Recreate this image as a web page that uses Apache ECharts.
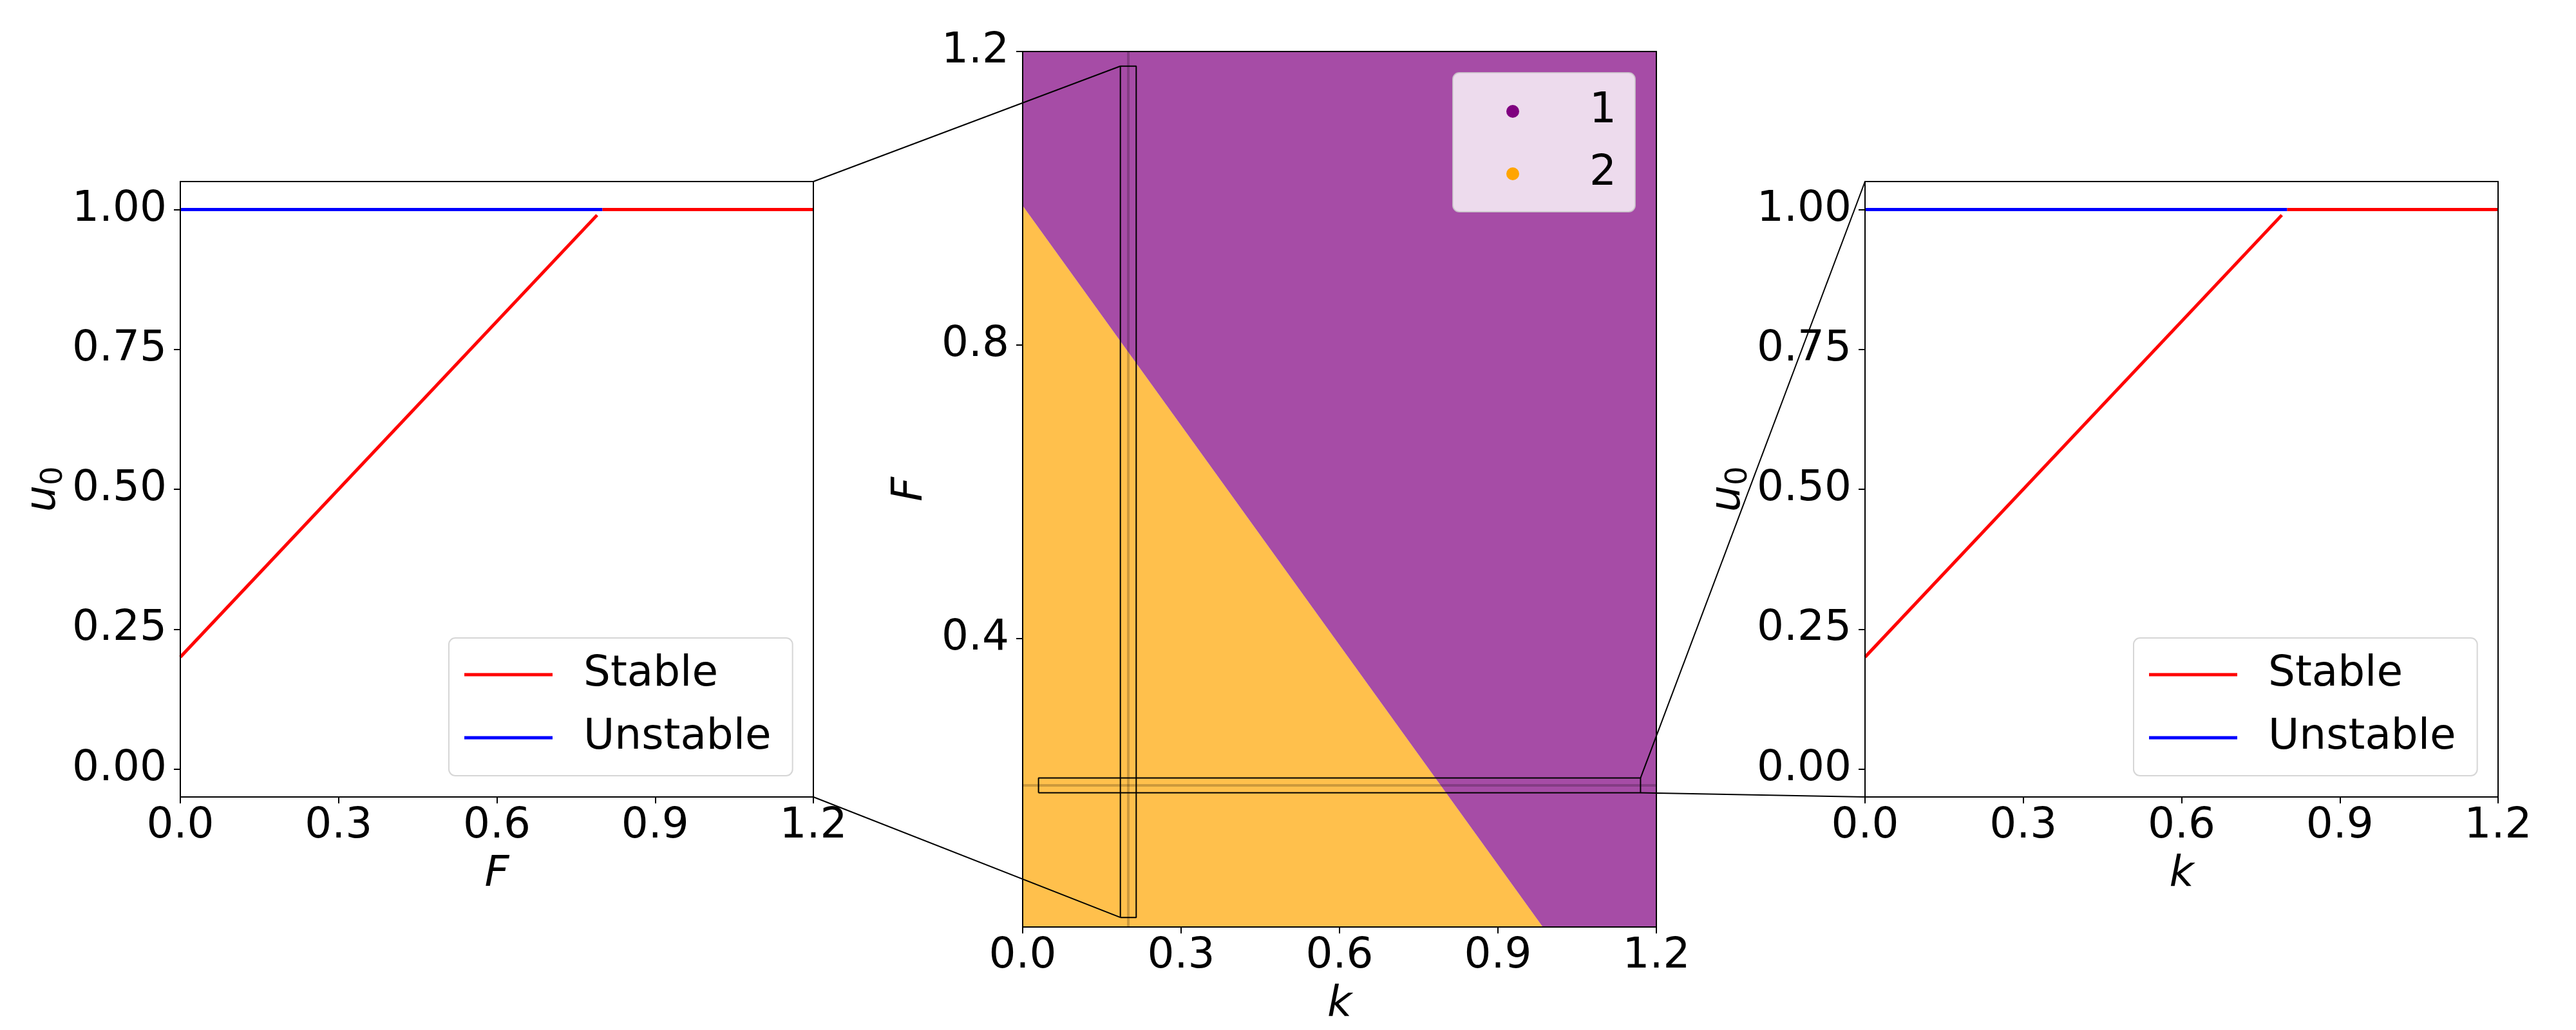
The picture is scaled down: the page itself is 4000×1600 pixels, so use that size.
<!DOCTYPE html>
<html>
<head>
<meta charset="utf-8">
<script src="https://cdn.jsdelivr.net/npm/echarts@6/dist/echarts.min.js"></script>
<style>
  html, body { margin: 0; padding: 0; background: #fff; }
  #chart { width: 4000px; height: 1600px; }
</style>
</head>
<body>
<div id="chart"></div>
<script>
// left panel: u0 against F (slice at k = 0.2)
const fStableLow = [0, 0.79];
const uStableLow = [0.2, 0.99];
const fStableHigh = [0.8, 1.2];
const uStableHigh = [1.0, 1.0];
const fUnstable = [0, 0.8];
const uUnstable = [1.0, 1.0];

// right panel: u0 against k (slice at F = 0.2)
const kStableLow = [0, 0.79];
const uStableLowK = [0.2, 0.99];
const kStableHigh = [0.8, 1.2];
const uStableHighK = [1.0, 1.0];
const kUnstable = [0, 0.8];
const uUnstableK = [1.0, 1.0];

// middle panel: boundary between region 1 (above) and region 2 (below)
const boundaryK = [0, 0.985, 1.2];
const boundaryF = [0.99, 0.007, 0.007];

// slices and the boxes that are blown up in the side panels
const sliceK = 0.2;
const sliceF = 0.2;
const vBoxK = [0.185, 0.215];
const vBoxF = [0.02, 1.18];
const hBoxK = [0.03, 1.17];
const hBoxF = [0.19, 0.21];

// axis ranges and ticks
const xRange = [0, 1.2];
const uRange = [-0.05, 1.05];
const fRange = [0.007, 1.2];
const xTicks = [0, 0.3, 0.6, 0.9, 1.2];
const uTicks = [0, 0.25, 0.5, 0.75, 1.0];
const fTicks = [0.4, 0.8, 1.2];

const FONT = 'DejaVu Sans';
const FS = 66;
const LW = 5;

const pairs = (xs, ys) => xs.map((x, i) => [x, ys[i]]);
const box = (ks, fs) => [[ks[0], fs[0]], [ks[1], fs[0]], [ks[1], fs[1]], [ks[0], fs[1]], [ks[0], fs[0]]];

const grids = [
  { left: 280, top: 282, width: 983, height: 956 },
  { left: 1588, top: 80, width: 984, height: 1360 },
  { left: 2896, top: 282, width: 983, height: 956 }
];

const u0Name = {
  name: '{u|u}{s|0}',
  nameLocation: 'middle',
  nameRotate: 90,
  nameGap: 177,
  nameTextStyle: {
    rich: {
      u: { fontFamily: FONT, fontSize: FS, fontStyle: 'italic', lineHeight: 70, color: '#000' },
      s: { fontFamily: FONT, fontSize: 46, lineHeight: 46, padding: [32, 0, 0, 0], color: '#000' }
    }
  }
}

const mainAxis = (gridIndex, range, ticks, digits, extra) => Object.assign({
  type: 'value',
  gridIndex,
  min: range[0],
  max: range[1],
  z: 10,
  axisLine: { show: true, onZero: false, lineStyle: { color: '#000', width: 2 } },
  axisTick: { show: true, length: 10, customValues: ticks, lineStyle: { color: '#000', width: 2 } },
  axisLabel: {
    customValues: ticks,
    formatter: v => v.toFixed(digits),
    fontFamily: FONT,
    fontSize: FS,
    color: '#000'
  },
  splitLine: { show: false }
}, extra)

const frameAxis = (gridIndex, range, position) => ({
  type: 'value',
  gridIndex,
  position,
  min: range[0],
  max: range[1],
  z: 10,
  axisLine: { show: true, onZero: false, lineStyle: { color: '#000', width: 2 } },
  axisTick: { show: false },
  axisLabel: { show: false },
  splitLine: { show: false }
})

const italicName = (name, gap, rotate) => ({
  name,
  nameLocation: 'middle',
  nameGap: gap,
  nameRotate: rotate,
  nameTextStyle: { fontFamily: FONT, fontSize: FS, fontStyle: 'italic', color: '#000', lineHeight: 66 }
})

const xAxis = [
  mainAxis(0, xRange, xTicks, 1, italicName('F', 88, 0)),
  mainAxis(1, xRange, xTicks, 1, italicName('k', 88, 0)),
  mainAxis(2, xRange, xTicks, 1, italicName('k', 88, 0)),
  frameAxis(0, xRange, 'top'),
  frameAxis(1, xRange, 'top'),
  frameAxis(2, xRange, 'top')
]
xAxis.slice(0, 3).forEach(a => { a.axisLabel.margin = 13 })

const yAxis = [
  mainAxis(0, uRange, uTicks, 2, u0Name),
  mainAxis(1, fRange, fTicks, 1, italicName('F', 141, 90)),
  mainAxis(2, uRange, uTicks, 2, u0Name),
  frameAxis(0, uRange, 'right'),
  frameAxis(1, fRange, 'right'),
  frameAxis(2, uRange, 'right')
]
yAxis.slice(0, 3).forEach(a => { a.axisLabel.margin = 21; a.position = 'left' })

const branch = (name, color, idx, xs, ys) => ({
  name,
  type: 'line',
  xAxisIndex: idx,
  yAxisIndex: idx,
  data: pairs(xs, ys),
  symbol: 'none',
  itemStyle: { color },
  lineStyle: { color, width: LW },
  z: 3
})

const boxSeries = (name, ks, fs, withSlices) => {
  const s = {
    name,
    type: 'line',
    xAxisIndex: 1,
    yAxisIndex: 1,
    data: box(ks, fs),
    symbol: 'none',
    lineStyle: { color: '#000', width: 2 },
    itemStyle: { color: '#000' },
    z: 6,
    silent: true
  }
  if (withSlices) {
    s.markLine = {
      silent: true,
      symbol: ['none', 'none'],
      label: { show: false },
      lineStyle: { color: 'rgba(0,0,0,0.2)', width: 4, type: 'solid' },
      data: [{ xAxis: sliceK }, { yAxis: sliceF }]
    }
  }
  return s
}

const legendBase = {
  orient: 'vertical',
  backgroundColor: 'rgba(255,255,255,0.8)',
  borderColor: 'rgba(204,204,204,0.8)',
  borderWidth: 2,
  borderRadius: 10,
  selectedMode: false,
  z: 12
}

const lineLegend = (left) => Object.assign({}, legendBase, {
  left,
  top: 991,
  data: [
    { name: 'Stable', icon: 'rect' },
    { name: 'Unstable', icon: 'rect' }
  ],
  itemWidth: 137,
  itemHeight: LW,
  itemGap: 32,
  padding: [24, 33, 26, 24],
  textStyle: { fontFamily: FONT, fontSize: FS, lineHeight: 66, color: '#000', padding: [0, 0, 0, 43] }
})

const option = {
  animation: false,
  backgroundColor: '#fff',
  grid: grids,
  xAxis,
  yAxis,
  legend: [
    lineLegend(697),
    Object.assign({}, legendBase, {
      left: 2256,
      top: 113,
      data: [
        { name: '1', icon: 'circle', itemStyle: { color: '#800080' } },
        { name: '2', icon: 'circle', itemStyle: { color: '#ffa500' } }
      ],
      itemWidth: 20,
      itemHeight: 20,
      itemGap: 31,
      padding: [27, 29, 26, 83],
      textStyle: { fontFamily: FONT, fontSize: FS, lineHeight: 66, color: '#000', padding: [0, 0, 0, 104] }
    }),
    lineLegend(3313)
  ],
  series: [
    branch('Stable', '#ff0000', 0, fStableLow, uStableLow),
    branch('Stable', '#ff0000', 0, fStableHigh, uStableHigh),
    branch('Unstable', '#0000ff', 0, fUnstable, uUnstable),

    {
      name: '2',
      type: 'line',
      xAxisIndex: 1,
      yAxisIndex: 1,
      data: pairs(boundaryK, boundaryF),
      symbol: 'none',
      itemStyle: { color: '#ffa500' },
      lineStyle: { width: 0 },
      areaStyle: { origin: 'start', color: 'rgba(255,165,0,0.7)', opacity: 1 },
      z: 2
    },
    {
      name: '1',
      type: 'line',
      xAxisIndex: 1,
      yAxisIndex: 1,
      data: pairs(boundaryK, boundaryF),
      symbol: 'none',
      itemStyle: { color: '#800080' },
      lineStyle: { width: 0 },
      areaStyle: { origin: 'end', color: 'rgba(128,0,128,0.7)', opacity: 1 },
      z: 2
    },
    boxSeries('box k', vBoxK, vBoxF, true),
    boxSeries('box F', hBoxK, hBoxF, false),

    branch('Stable', '#ff0000', 2, kStableLow, uStableLowK),
    branch('Stable', '#ff0000', 2, kStableHigh, uStableHighK),
    branch('Unstable', '#0000ff', 2, kUnstable, uUnstableK)
  ]
}

const chart = echarts.init(document.getElementById('chart'), null, { renderer: 'canvas' })
chart.setOption(option)

// connector lines from the boxes to the corners of the side panels
const px = (i, pt) => chart.convertToPixel({ xAxisIndex: i, yAxisIndex: i }, pt)
const links = [
  [px(1, [vBoxK[0], vBoxF[1]]), px(0, [xRange[1], uRange[1]])],
  [px(1, [vBoxK[0], vBoxF[0]]), px(0, [xRange[1], uRange[0]])],
  [px(1, [hBoxK[1], hBoxF[1]]), px(2, [xRange[0], uRange[1]])],
  [px(1, [hBoxK[1], hBoxF[0]]), px(2, [xRange[0], uRange[0]])]
]
chart.setOption({
  graphic: links.map(([a, b]) => ({
    type: 'line',
    silent: true,
    z: 20,
    shape: { x1: a[0], y1: a[1], x2: b[0], y2: b[1] },
    style: { stroke: '#000', lineWidth: 2 }
  }))
})
</script>
</body>
</html>
